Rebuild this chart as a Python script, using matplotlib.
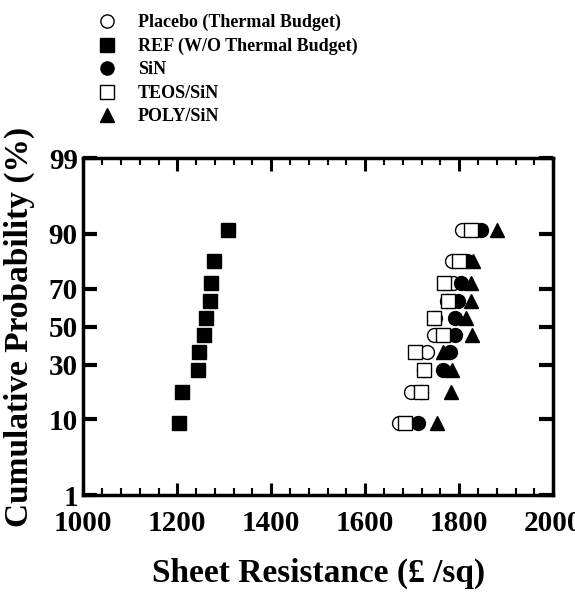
import math
import numpy as np
import matplotlib
matplotlib.use("Agg")
import matplotlib.pyplot as plt
from matplotlib.ticker import FixedLocator, MultipleLocator, FixedFormatter

# ---------------- data ----------------
prob = [9.09, 18.18, 27.27, 36.36, 45.45, 54.55, 63.64, 72.73, 81.82, 90.91]
placebo = [1672, 1697, 1726, 1731, 1746, 1748, 1773, 1787, 1785, 1805]
ref = [1204, 1210, 1244, 1246, 1257, 1262, 1270, 1272, 1278, 1308]
sin_ = [1713, 1719, 1766, 1780, 1792, 1792, 1798, 1803, 1816, 1846]
teos = [1684, 1719, 1725, 1705, 1765, 1746, 1777, 1767, 1799, 1825]
poly = [1752, 1782, 1784, 1765, 1828, 1814, 1825, 1826, 1830, 1881]
labels = ["Placebo (Thermal Budget)", "REF (W/O Thermal Budget)", "SiN",
          "TEOS/SiN", "POLY/SiN"]
yticks = [1, 10, 30, 50, 70, 90, 99]
xticks = [1000, 1200, 1400, 1600, 1800, 2000]


# ---------------- probit scale helpers ----------------
def _ppf(p):
    a = [-3.969683028665376e+01, 2.209460984245205e+02, -2.759285104469687e+02,
         1.383577518672690e+02, -3.066479806614716e+01, 2.506628277459239e+00]
    b = [-5.447609879822406e+01, 1.615858368580409e+02, -1.556989798598866e+02,
         6.680131188771972e+01, -1.328068155288572e+01]
    c = [-7.784894002430293e-03, -3.223964580411365e-01, -2.400758277161838e+00,
         -2.549732539343734e+00, 4.374664141464968e+00, 2.938163982698783e+00]
    d = [7.784695709041462e-03, 3.224671290700398e-01, 2.445134137142996e+00,
         3.754408661907416e+00]
    p = min(max(p, 1e-9), 1 - 1e-9)
    plow = 0.02425
    if p < plow:
        q = math.sqrt(-2 * math.log(p))
        return (((((c[0]*q+c[1])*q+c[2])*q+c[3])*q+c[4])*q+c[5]) / \
               ((((d[0]*q+d[1])*q+d[2])*q+d[3])*q+1)
    if p > 1 - plow:
        q = math.sqrt(-2 * math.log(1 - p))
        return -(((((c[0]*q+c[1])*q+c[2])*q+c[3])*q+c[4])*q+c[5]) / \
                ((((d[0]*q+d[1])*q+d[2])*q+d[3])*q+1)
    q = p - 0.5
    r = q * q
    return (((((a[0]*r+a[1])*r+a[2])*r+a[3])*r+a[4])*r+a[5])*q / \
           (((((b[0]*r+b[1])*r+b[2])*r+b[3])*r+b[4])*r+1)


def fwd(pct):
    arr = np.asarray(pct, dtype=float)
    out = np.array([_ppf(v / 100.0) for v in arr.ravel()]).reshape(arr.shape)
    return out


def inv(z):
    arr = np.asarray(z, dtype=float)
    out = np.array([50.0 * (1 + math.erf(v / math.sqrt(2))) for v in arr.ravel()]).reshape(arr.shape)
    return out


# ---------------- figure ----------------
plt.rcParams['font.family'] = ['Liberation Serif', 'DejaVu Serif']
plt.rcParams['font.weight'] = 'bold'

fig = plt.figure(figsize=(5.75, 6.0), dpi=100)
ax = fig.add_axes([0.145, 0.175, 0.817, 0.561])

ms = 10
kw = dict(linestyle='none', markersize=ms, markeredgewidth=1.0)
h1, = ax.plot(placebo, prob, marker='o', markerfacecolor='white', markeredgecolor='black', **kw)
h2, = ax.plot(ref, prob, marker='s', markerfacecolor='black', markeredgecolor='black', **kw)
h3, = ax.plot(sin_, prob, marker='o', markerfacecolor='black', markeredgecolor='black', **kw)
h4, = ax.plot(teos, prob, marker='s', markerfacecolor='white', markeredgecolor='black', **kw)
h5, = ax.plot(poly, prob, marker='^', markerfacecolor='black', markeredgecolor='black', **kw)

ax.set_yscale('function', functions=(fwd, inv))
ax.set_ylim(1, 99)
ax.set_xlim(1000, 2000)

ax.yaxis.set_major_locator(FixedLocator(yticks))
ax.yaxis.set_major_formatter(FixedFormatter([str(t) for t in yticks]))
ax.yaxis.set_minor_locator(FixedLocator([]))
ax.xaxis.set_major_locator(FixedLocator(xticks))
ax.xaxis.set_minor_locator(MultipleLocator(40))

for s in ax.spines.values():
    s.set_linewidth(2.5)

ax.tick_params(axis='x', which='major', direction='in', top=True, length=9, width=2.2,
               labelsize=21, pad=11)
ax.tick_params(axis='x', which='minor', direction='in', top=True, length=5, width=1.5)
ax.tick_params(axis='y', which='major', direction='in', right=True, length=10, width=3,
               labelsize=21, pad=4)

ax.set_xlabel("Sheet Resistance (\u00a3 /sq)", fontsize=24, fontweight='bold', labelpad=15)
ax.set_ylabel("Cumulative Probability (%)", fontsize=24, fontweight='bold', labelpad=10)

leg = fig.legend([h1, h2, h3, h4, h5], labels, loc='upper left',
                 bbox_to_anchor=(0.1485, 0.998), frameon=False, fontsize=13,
                 handletextpad=1.22, labelspacing=0.36, handlelength=1.0,
                 markerscale=0.95, borderaxespad=0.3)
for t in leg.get_texts():
    t.set_fontweight('bold')

fig.savefig("out.png", dpi=100)
